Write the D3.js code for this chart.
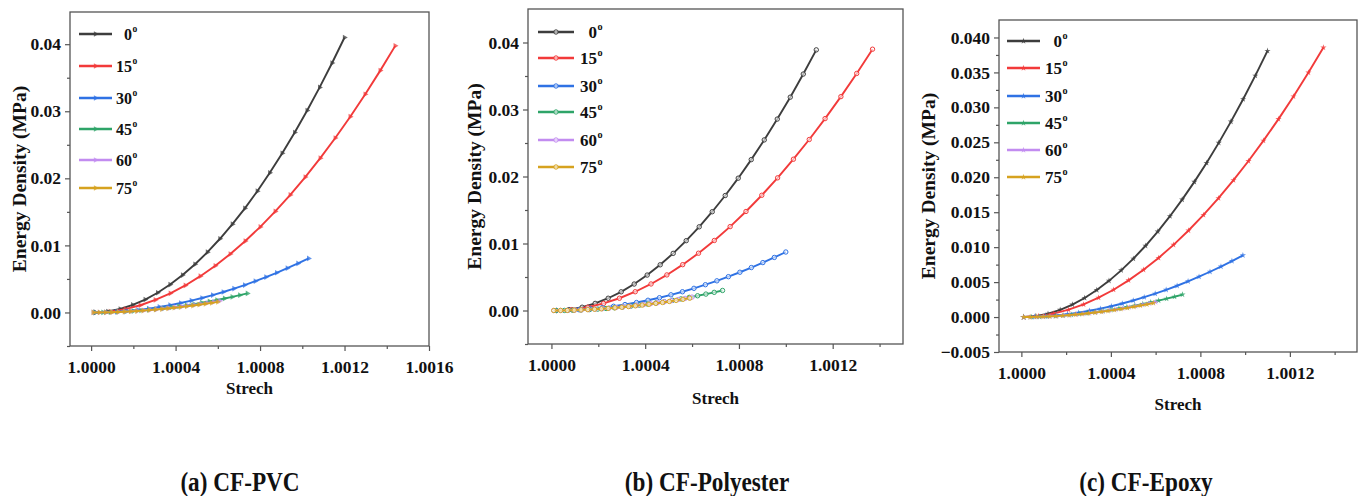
<!DOCTYPE html>
<html>
<head>
<meta charset="utf-8">
<script src="https://cdn.jsdelivr.net/npm/d3@7"></script>
<style>
  html, body { margin: 0; padding: 0; background: #fff; }
  svg { display: block; }
  text { font-family: "Liberation Serif", "Times New Roman", serif; font-weight: bold; fill: #111; }
</style>
</head>
<body>
<svg id="chart" width="1363" height="496"></svg>
<script>
// ---------------- DATA ----------------
const angles = ["0", "15", "30", "45", "60", "75"];
const captions = ["(a) CF-PVC", "(b) CF-Polyester", "(c) CF-Epoxy"];
const xTitle = "Strech";
const yTitle = "Energy Density (MPa)";

// tick values
const xMajorA = [1.0000, 1.0004, 1.0008, 1.0012, 1.0016];
const xMinorA = [1.0002, 1.0006, 1.0010, 1.0014];
const yMajorA = [0.00, 0.01, 0.02, 0.03, 0.04];
const yMinorA = [-0.005, 0.005, 0.015, 0.025, 0.035];
const xMajorB = [1.0000, 1.0004, 1.0008, 1.0012];
const xMinorB = [1.0002, 1.0006, 1.0010, 1.0014];
const yMajorB = [0.00, 0.01, 0.02, 0.03, 0.04];
const yMinorB = [-0.005, 0.005, 0.015, 0.025, 0.035];
const xMajorC = [1.0000, 1.0004, 1.0008, 1.0012];
const xMinorC = [1.0002, 1.0006, 1.0010, 1.0014];
const yMajorC = [-0.005, 0.000, 0.005, 0.010, 0.015, 0.020, 0.025, 0.030, 0.035, 0.040];
const yMinorC = [-0.0025, 0.0025, 0.0075, 0.0125, 0.0175, 0.0225, 0.0275, 0.0325, 0.0375];

// stretch range (first and last sample) of each curve, per panel (0,15,30,45,60,75 deg)
const stretchStartA = [1.00002, 1.00002, 1.00002, 1.00002, 1.00001, 1.00001];
const stretchEndA   = [1.00120, 1.00144, 1.00103, 1.00074, 1.00061, 1.00060];
const stretchStartB = [1.00002, 1.00002, 1.00002, 1.00002, 1.00001, 1.00001];
const stretchEndB   = [1.00113, 1.00137, 1.00100, 1.00073, 1.00060, 1.00059];
const stretchStartC = [1.00001, 1.00001, 1.00001, 1.00001, 1.00001, 1.00001];
const stretchEndC   = [1.00110, 1.00135, 1.00099, 1.00072, 1.00060, 1.00059];

// energy density (MPa), evenly spaced samples along each stretch range
// (a) CF-PVC
const pvc0  = [0, 0.00014, 0.00052, 0.00112, 0.00193, 0.00294, 0.00416, 0.00558, 0.00719, 0.00899, 0.01099, 0.01317, 0.01553, 0.01808, 0.02082, 0.02374, 0.02683, 0.03011, 0.03356, 0.03719, 0.04100];
const pvc15 = [0, 0.00013, 0.00050, 0.00108, 0.00187, 0.00285, 0.00403, 0.00541, 0.00697, 0.00872, 0.01065, 0.01276, 0.01506, 0.01753, 0.02018, 0.02301, 0.02601, 0.02919, 0.03254, 0.03606, 0.03975];
const pvc30 = [0, 0.00003, 0.00010, 0.00022, 0.00038, 0.00058, 0.00082, 0.00110, 0.00141, 0.00177, 0.00216, 0.00259, 0.00305, 0.00356, 0.00409, 0.00467, 0.00527, 0.00592, 0.00660, 0.00731, 0.00806];
const pvc45 = [0, 0.00001, 0.00004, 0.00008, 0.00013, 0.00020, 0.00029, 0.00039, 0.00050, 0.00062, 0.00076, 0.00091, 0.00108, 0.00125, 0.00144, 0.00164, 0.00186, 0.00209, 0.00232, 0.00258, 0.00284];
const pvc60 = [0, 0.00001, 0.00002, 0.00005, 0.00008, 0.00012, 0.00018, 0.00024, 0.00030, 0.00038, 0.00046, 0.00056, 0.00066, 0.00076, 0.00088, 0.00100, 0.00113, 0.00127, 0.00142, 0.00157, 0.00173];
const pvc75 = [0, 0.00001, 0.00002, 0.00004, 0.00007, 0.00011, 0.00016, 0.00021, 0.00028, 0.00035, 0.00042, 0.00051, 0.00060, 0.00070, 0.00080, 0.00091, 0.00103, 0.00116, 0.00129, 0.00143, 0.00158];
// (b) CF-Polyester
const pol0  = [0, 0.00013, 0.00049, 0.00106, 0.00183, 0.00279, 0.00395, 0.00529, 0.00682, 0.00853, 0.01042, 0.01249, 0.01474, 0.01716, 0.01975, 0.02252, 0.02546, 0.02857, 0.03184, 0.03529, 0.03890];
const pol15 = [0, 0.00013, 0.00049, 0.00106, 0.00183, 0.00280, 0.00396, 0.00531, 0.00684, 0.00855, 0.01045, 0.01252, 0.01478, 0.01720, 0.01980, 0.02258, 0.02552, 0.02864, 0.03192, 0.03538, 0.03900];
const pol30 = [0, 0.00003, 0.00011, 0.00024, 0.00041, 0.00063, 0.00089, 0.00119, 0.00153, 0.00191, 0.00234, 0.00280, 0.00331, 0.00385, 0.00443, 0.00505, 0.00571, 0.00641, 0.00715, 0.00792, 0.00873];
const pol45 = [0, 0.00001, 0.00004, 0.00008, 0.00014, 0.00021, 0.00030, 0.00041, 0.00052, 0.00066, 0.00080, 0.00096, 0.00113, 0.00132, 0.00152, 0.00173, 0.00196, 0.00220, 0.00245, 0.00271, 0.00299];
const pol60 = [0, 0.00001, 0.00003, 0.00005, 0.00009, 0.00014, 0.00020, 0.00027, 0.00035, 0.00044, 0.00054, 0.00064, 0.00076, 0.00088, 0.00102, 0.00116, 0.00131, 0.00147, 0.00164, 0.00181, 0.00200];
const pol75 = [0, 0.00001, 0.00002, 0.00005, 0.00009, 0.00013, 0.00019, 0.00025, 0.00032, 0.00040, 0.00049, 0.00059, 0.00070, 0.00081, 0.00093, 0.00107, 0.00120, 0.00135, 0.00151, 0.00167, 0.00184];
// (c) CF-Epoxy
const epo0  = [0, 0.00013, 0.00048, 0.00104, 0.00179, 0.00273, 0.00387, 0.00518, 0.00668, 0.00835, 0.01020, 0.01223, 0.01443, 0.01680, 0.01934, 0.02205, 0.02492, 0.02796, 0.03117, 0.03454, 0.03808];
const epo15 = [0, 0.00013, 0.00049, 0.00105, 0.00181, 0.00277, 0.00391, 0.00525, 0.00676, 0.00846, 0.01033, 0.01238, 0.01461, 0.01701, 0.01958, 0.02232, 0.02524, 0.02832, 0.03156, 0.03498, 0.03856];
const epo30 = [0, 0.00003, 0.00011, 0.00024, 0.00041, 0.00063, 0.00090, 0.00120, 0.00155, 0.00194, 0.00237, 0.00284, 0.00335, 0.00389, 0.00448, 0.00511, 0.00578, 0.00648, 0.00723, 0.00801, 0.00883];
const epo45 = [0, 0.00001, 0.00004, 0.00009, 0.00015, 0.00023, 0.00033, 0.00044, 0.00056, 0.00070, 0.00086, 0.00103, 0.00122, 0.00142, 0.00163, 0.00186, 0.00210, 0.00236, 0.00263, 0.00291, 0.00321];
const epo60 = [0, 0.00001, 0.00003, 0.00006, 0.00010, 0.00015, 0.00022, 0.00029, 0.00038, 0.00047, 0.00058, 0.00069, 0.00081, 0.00095, 0.00109, 0.00124, 0.00141, 0.00158, 0.00176, 0.00195, 0.00215];
const epo75 = [0, 0.00001, 0.00003, 0.00005, 0.00009, 0.00014, 0.00020, 0.00027, 0.00035, 0.00044, 0.00054, 0.00064, 0.00076, 0.00088, 0.00102, 0.00116, 0.00131, 0.00147, 0.00164, 0.00181, 0.00200];

// ---------------- STYLE / LAYOUT ----------------
const colors = ["#3d3d3d", "#f23a3a", "#2f72e4", "#2ea468", "#c28cf0", "#d6a21f"];

const panels = [
  {
    values: [pvc0, pvc15, pvc30, pvc45, pvc60, pvc75],
    sStart: stretchStartA, sEnd: stretchEndA,
    xDomain: [0.9999, 1.0016], yDomain: [-0.005, 0.0448],
    left: 70, right: 429, top: 12, bottom: 346,
    xMajor: xMajorA, xMinor: xMinorA, yMajor: yMajorA, yMinor: yMinorA,
    yFmt: ".2f", marker: "triangle",
    xTitleY: 394, yTitleX: 26,
    legX1: 79, legX2: 112, legTextX: 132, legY: [34, 66, 98, 129, 160, 188], legFont: 16,
    capX: 240
  },
  {
    values: [pol0, pol15, pol30, pol45, pol60, pol75],
    sStart: stretchStartB, sEnd: stretchEndB,
    xDomain: [0.9999, 1.0015], yDomain: [-0.005, 0.045],
    left: 528, right: 903, top: 9, bottom: 344,
    xMajor: xMajorB, xMinor: xMinorB, yMajor: yMajorB, yMinor: yMinorB,
    yFmt: ".2f", marker: "circle",
    xTitleY: 404, yTitleX: 481,
    legX1: 538, legX2: 574, legTextX: 597, legY: [32, 58, 86, 112, 140, 167], legFont: 17,
    capX: 707
  },
  {
    values: [epo0, epo15, epo30, epo45, epo60, epo75],
    sStart: stretchStartC, sEnd: stretchEndC,
    xDomain: [0.9999, 1.0015], yDomain: [-0.005, 0.0425],
    left: 999, right: 1357, top: 20, bottom: 352,
    xMajor: xMajorC, xMinor: xMinorC, yMajor: yMajorC, yMinor: yMinorC,
    yFmt: ".3f", marker: "star",
    xTitleY: 410, yTitleX: 935,
    legX1: 1007, legX2: 1040, legTextX: 1062, legY: [41, 68, 96, 123, 150, 177], legFont: 17,
    capX: 1146
  }
];

const svg = d3.select("#chart");
const frameColor = "#555";
const tickFont = 17.5;
const serif = "'Liberation Serif', 'Times New Roman', Times, serif";

function drawMarker(sel, type, color, cx, cy) {
  if (type === "circle") {
    sel.append("circle").attr("cx", cx).attr("cy", cy).attr("r", 2.2)
      .attr("fill", "#fff").attr("fill-opacity", 0.6)
      .attr("stroke", color).attr("stroke-width", 1);
  } else if (type === "triangle") {
    sel.append("path").attr("d", d3.symbol(d3.symbolTriangle, 14)())
      .attr("transform", `translate(${cx},${cy}) rotate(90)`)
      .attr("fill", color).attr("fill-opacity", 0.75);
  } else {
    sel.append("path").attr("d", d3.symbol(d3.symbolStar, 12)())
      .attr("transform", `translate(${cx},${cy})`)
      .attr("fill", color).attr("fill-opacity", 0.8);
  }
}

panels.forEach((p, pi) => {
  const g = svg.append("g");
  const x = d3.scaleLinear().domain(p.xDomain).range([p.left, p.right]);
  const y = d3.scaleLinear().domain(p.yDomain).range([p.bottom, p.top]);

  // axes
  const xAxis = d3.axisBottom(x).tickValues(p.xMajor).tickSize(5).tickPadding(10)
    .tickFormat(d3.format(".4f"));
  const xAxisMinor = d3.axisBottom(x).tickValues(p.xMinor).tickSize(3).tickFormat("");
  const yAxis = d3.axisLeft(y).tickValues(p.yMajor).tickSize(5).tickPadding(4)
    .tickFormat(d3.format(p.yFmt));
  const yAxisMinor = d3.axisLeft(y).tickValues(p.yMinor).tickSize(3).tickFormat("");

  [[xAxis, "x"], [xAxisMinor, "x"], [yAxis, "y"], [yAxisMinor, "y"]].forEach(([ax, kind]) => {
    const a = g.append("g")
      .attr("transform", kind === "x" ? `translate(0,${p.bottom})` : `translate(${p.left},0)`)
      .call(ax)
      .attr("font-family", serif);
    a.select(".domain").remove();
    a.selectAll("line").attr("stroke", frameColor).attr("stroke-width", 1.2);
    a.selectAll("text").style("font-size", tickFont + "px")
      .style("font-family", serif)
      .style("font-weight", "bold").attr("fill", "#111");
  });

  // frame
  g.append("rect")
    .attr("x", p.left).attr("y", p.top)
    .attr("width", p.right - p.left).attr("height", p.bottom - p.top)
    .attr("fill", "none").attr("stroke", frameColor).attr("stroke-width", 1.3);

  // curves
  const line = d3.line().x(d => x(d[0])).y(d => y(d[1]));
  p.values.forEach((vals, i) => {
    const n = vals.length;
    const pts = vals.map((v, k) => [p.sStart[i] + (p.sEnd[i] - p.sStart[i]) * k / (n - 1), v]);
    g.append("path").datum(pts).attr("d", line)
      .attr("fill", "none").attr("stroke", colors[i]).attr("stroke-width", 1.9);
    const mg = g.append("g");
    pts.forEach(d => drawMarker(mg, p.marker, colors[i], x(d[0]), y(d[1])));
  });

  // legend
  angles.forEach((a, i) => {
    const ly = p.legY[i];
    g.append("line").attr("x1", p.legX1).attr("x2", p.legX2).attr("y1", ly).attr("y2", ly)
      .attr("stroke", colors[i]).attr("stroke-width", 2.5);
    drawMarker(g, p.marker, colors[i], (p.legX1 + p.legX2) / 2, ly);
    g.append("text").attr("x", p.legTextX).attr("y", ly + p.legFont * 0.35)
      .attr("text-anchor", "end").style("font-size", p.legFont + "px").text(a);
    g.append("text").attr("x", p.legTextX + 0.5).attr("y", ly - p.legFont * 0.12)
      .style("font-size", (p.legFont * 0.6) + "px").text("o");
  });

  // axis titles
  g.append("text").attr("x", (p.left + p.right) / 2).attr("y", p.xTitleY)
    .attr("text-anchor", "middle").style("font-size", "17px").text(xTitle);
  g.append("text")
    .attr("transform", `translate(${p.yTitleX},${(p.top + p.bottom) / 2}) rotate(-90)`)
    .attr("text-anchor", "middle").style("font-size", "19.5px").text(yTitle);

  // caption (tall, condensed lettering as in the reference)
  svg.append("text")
    .attr("transform", `translate(${p.capX},491) scale(0.86,1)`)
    .attr("text-anchor", "middle").style("font-size", "27px").text(captions[pi]);
});
</script>
</body>
</html>
